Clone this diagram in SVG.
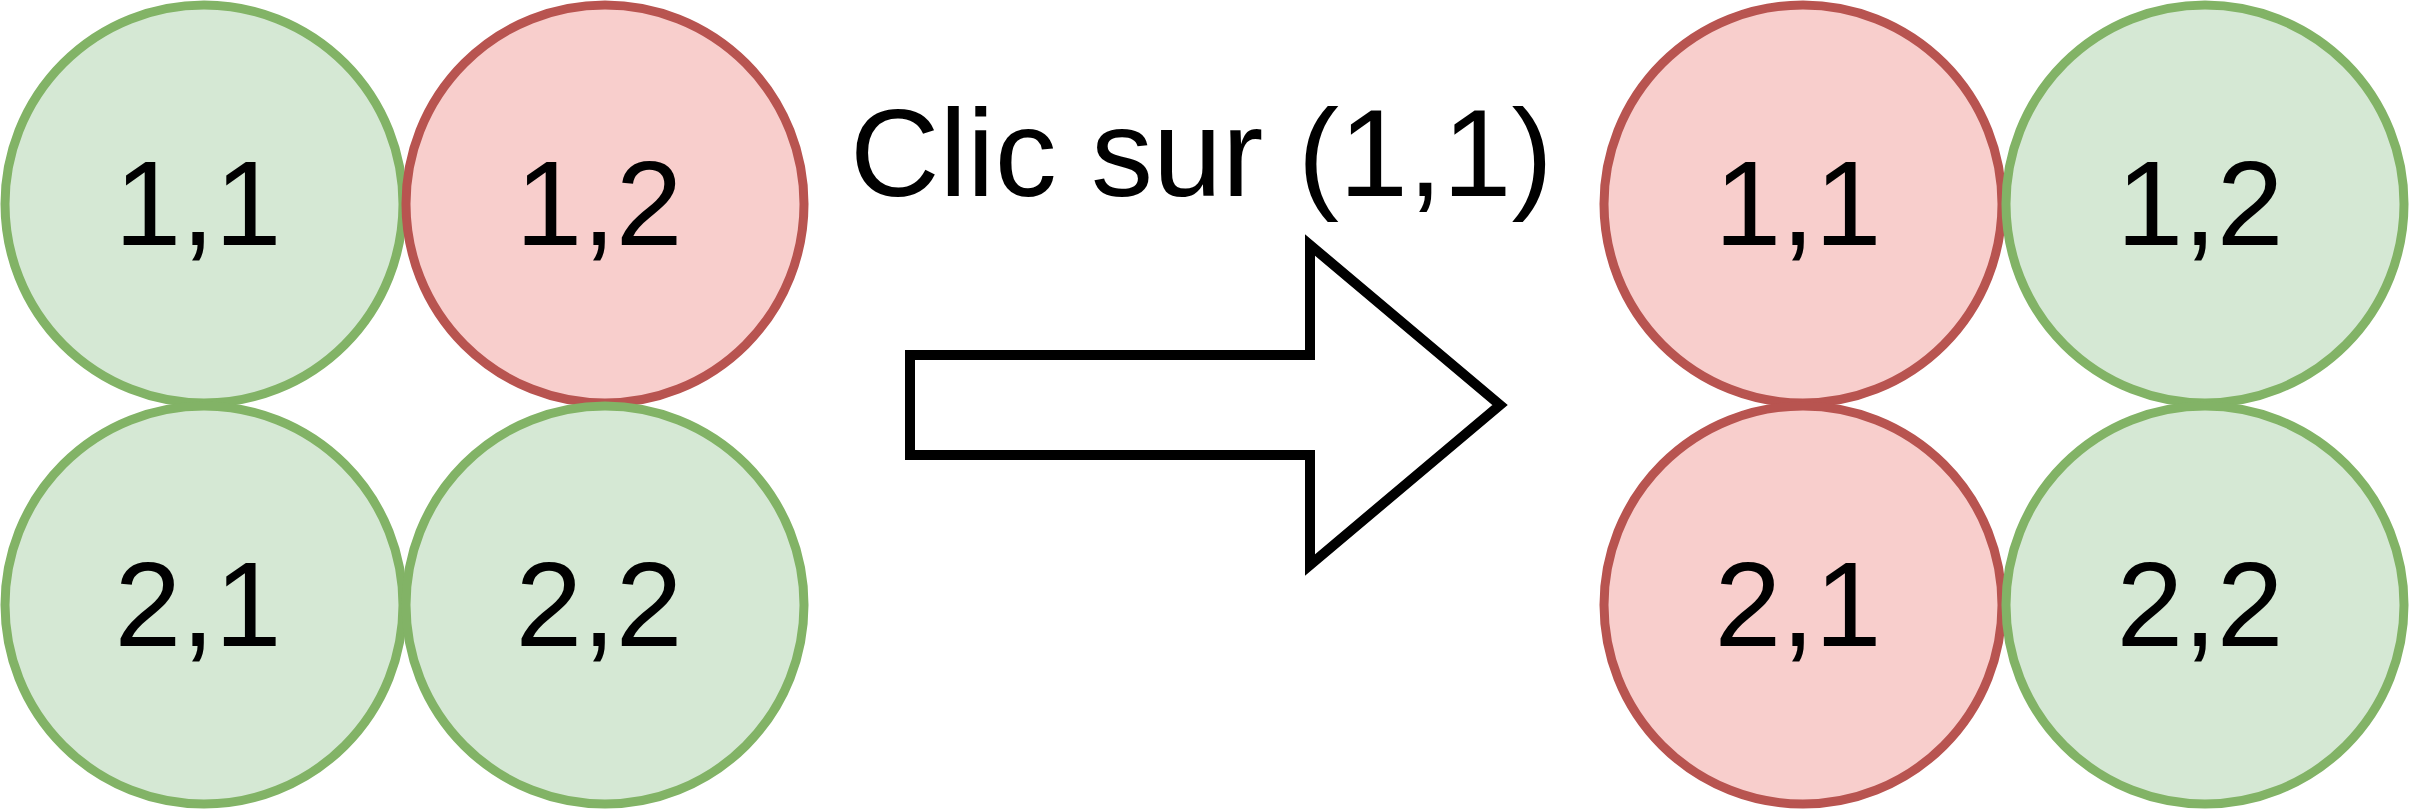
<svg xmlns="http://www.w3.org/2000/svg" width="2410" height="810" viewBox="0 0 2410 810">
<style>
.g{fill:#d5e8d4;stroke:#82b366;stroke-width:9}
.r{fill:#f8cecc;stroke:#b85450;stroke-width:9}
text{font-family:"Liberation Sans",Arial,Helvetica,sans-serif;fill:#000}
.t{font-size:120px;text-anchor:middle}
</style>
<rect width="2410" height="810" fill="#fff"/>
<g id="L11"><circle class="g" cx="204" cy="204" r="199"/><text class="t" x="198" y="245">1,1</text></g>
<g id="L12"><circle class="r" cx="605" cy="204" r="199"/><text class="t" x="599" y="245">1,2</text></g>
<g id="L21"><circle class="g" cx="204" cy="605" r="199"/><text class="t" x="198" y="646">2,1</text></g>
<g id="L22"><circle class="g" cx="605" cy="605" r="199"/><text class="t" x="599" y="646">2,2</text></g>
<g id="title"><text x="850" y="196" font-size="124">Clic sur (1,1)</text></g>
<g id="connectors"><polygon points="910,355 1310,355 1310,245 1500,405 1310,565 1310,455 910,455" fill="#fff" stroke="#000" stroke-width="10"/></g>
<g id="R11"><circle class="r" cx="1803" cy="204" r="199"/><text class="t" x="1798" y="245">1,1</text></g>
<g id="R12"><circle class="g" cx="2205" cy="204" r="199"/><text class="t" x="2200" y="245">1,2</text></g>
<g id="R21"><circle class="r" cx="1803" cy="605" r="199"/><text class="t" x="1798" y="646">2,1</text></g>
<g id="R22"><circle class="g" cx="2205" cy="605" r="199"/><text class="t" x="2200" y="646">2,2</text></g>
</svg>
